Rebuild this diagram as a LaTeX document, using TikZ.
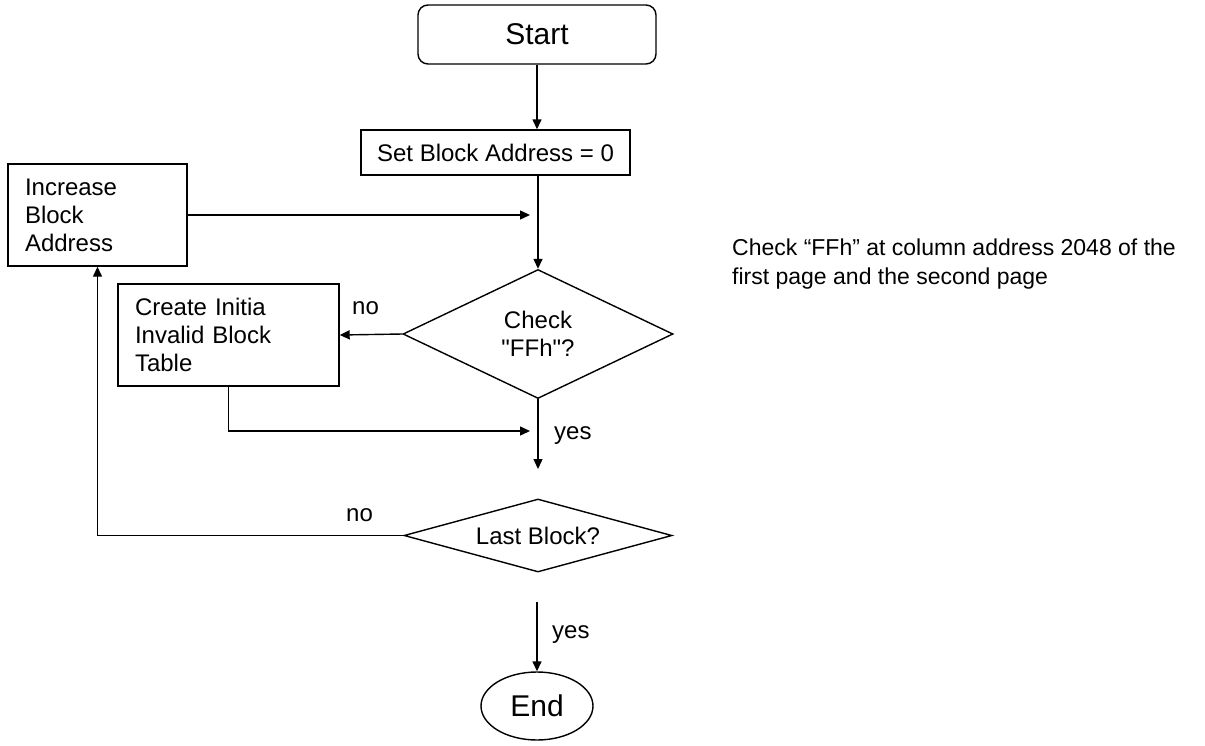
\documentclass[tikz,border=0pt]{standalone}
\usepackage{fontspec}
\setmainfont{Liberation Sans}[Ligatures=TeXOff]
\usetikzlibrary{shapes.geometric,arrows.meta}
\begin{document}
\begin{tikzpicture}[x=1pt,y=-1pt,
  lbl/.style={font=\fontsize{24}{28}\selectfont},
  bigl/.style={font=\fontsize{30}{34}\selectfont},
  box/.style={draw, line width=1.4pt, rectangle, inner sep=0pt, lbl},
  dia/.style={draw, line width=1.4pt, diamond, inner sep=0pt, align=center, lbl},
  conn/.style={line width=1.4pt, -{Triangle[length=10pt,width=9pt]}},
  tag/.style={lbl, inner sep=0pt, anchor=base west}
]
\useasboundingbox (0,0) rectangle (1205,745);

\node[box, bigl, rounded corners=10pt, minimum width=238pt, minimum height=59pt] (start) at (537,34.5) {Start};
\node[box, minimum width=269pt, minimum height=45pt] (set) at (495.5,152.5) {Set Block Address = 0};
\node[box, minimum width=179pt, minimum height=102pt, text width=145pt, align=left] (inc) at (97.5,215) {Increase\\Block\\Address};
\node[dia, minimum width=270pt, minimum height=129pt, aspect=2.1] (check) at (538,334) {Check\\"FFh"?};
\node[box, minimum width=221pt, minimum height=102pt, text width=187pt, align=left] (create) at (228.5,335) {Create Initia\\Invalid Block\\Table};
\node[dia, minimum width=268pt, minimum height=73pt, aspect=3.67] (last) at (538,535.5) {Last Block?};
\node[draw, line width=1.4pt, ellipse, inner sep=0pt, bigl, minimum width=112pt, minimum height=68pt] (end) at (537,706) {End};

\node[anchor=north west, align=left, inner sep=0pt, font=\fontsize{23}{29}\selectfont] (note) at (732,239)
  {Check “FFh” at column address 2048 of the\\first page and the second page};

\node[tag] (no1) at (352,314) {no};
\node[tag] (yes1) at (554,439) {yes};
\node[tag] (no2) at (346,521) {no};
\node[tag] (yes2) at (552,638) {yes};

\coordinate (j1) at (530,216);
\coordinate (j2) at (530,431);
\coordinate (j3) at (538,469);
\coordinate (j4) at (538,602);

\draw[conn] (start.south) -- (start.south |- set.north);
\draw[conn] (check.north |- set.south) -- (check.north);
\draw[conn] (inc.east) -- (inc.east -| j1);
\draw[conn] (check.west) -- (create.east);
\draw[conn] (create.south) |- (j2);
\draw[conn] (check.south) -- (j3);
\draw[conn] (last.west) -| (inc.south);
\draw[conn] (end.north |- j4) -- (end.north);
\end{tikzpicture}
\end{document}
